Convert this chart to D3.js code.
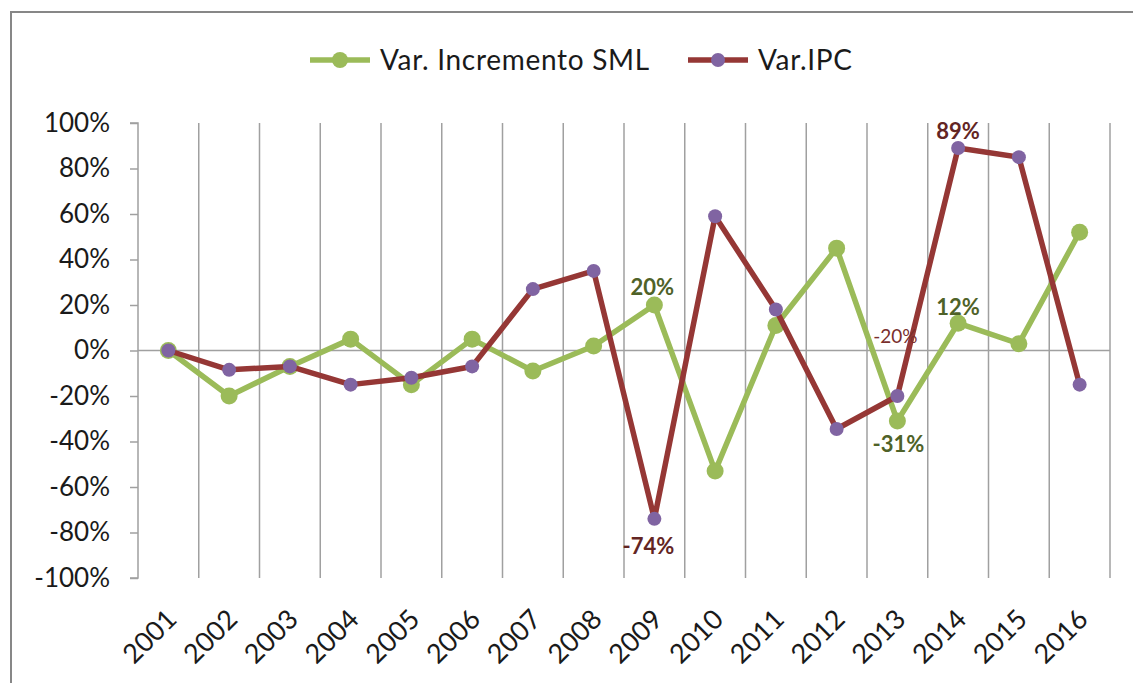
<!DOCTYPE html>
<html>
<head>
<meta charset="utf-8">
<script src="https://cdn.jsdelivr.net/npm/d3@7"></script>
<style>
  html, body { margin: 0; padding: 0; background: #fff; }
  svg { display: block; font-family: Lato, "Liberation Sans", sans-serif; }
</style>
</head>
<body>
<svg id="chart" width="1133" height="683"></svg>
<script>
// ---- data ----
const years = ["2001","2002","2003","2004","2005","2006","2007","2008","2009","2010","2011","2012","2013","2014","2015","2016"];
const smlValues = [0.00, -0.20, -0.07, 0.05, -0.15, 0.05, -0.09, 0.02, 0.20, -0.53, 0.11, 0.45, -0.31, 0.12, 0.03, 0.52];
const ipcValues = [0.00, -0.085, -0.07, -0.15, -0.12, -0.07, 0.27, 0.35, -0.74, 0.59, 0.18, -0.345, -0.20, 0.89, 0.85, -0.15];
const yTicks = [-1, -0.8, -0.6, -0.4, -0.2, 0, 0.2, 0.4, 0.6, 0.8, 1];
const seriesNames = ["Var. Incremento SML", "Var.IPC"];
const smlLabelled = ["2009", "2013", "2014"];
const ipcLabelled = ["2009", "2013", "2014"];

// ---- layout ----
const svg = d3.select("#chart");
const pLeft = 138, pRight = 1110, pTop = 123, pBottom = 578;
const x = d3.scaleBand().domain(years).range([pLeft, pRight]);
const y = d3.scaleLinear().domain([-1, 1]).range([pBottom, pTop]);
const fmt = d3.format(".0%");
const pct = v => fmt(v).replace("\u2212", "-");

// outer frame
svg.append("rect").attr("x", 11).attr("y", 12).attr("width", 1140).attr("height", 700)
  .attr("fill", "none").attr("stroke", "#878787").attr("stroke-width", 2);

// vertical gridlines at category boundaries
const bounds = years.map(d => x(d)).concat([pRight]);
svg.append("g").selectAll("line").data(bounds.slice(1)).join("line")
  .attr("x1", d => d).attr("x2", d => d).attr("y1", pTop).attr("y2", pBottom)
  .attr("stroke", "#a0a0a0").attr("stroke-width", 1.5);

// y axis
const yAxis = d3.axisLeft(y).tickValues(yTicks).tickFormat(pct).tickSize(8).tickPadding(20);
const gy = svg.append("g").attr("transform", `translate(${pLeft},0)`).call(yAxis);
gy.select(".domain").attr("stroke", "#a0a0a0").attr("stroke-width", 1.5).attr("d", `M-8,${pTop}H0V${pBottom}H-8`);
gy.selectAll(".tick line").attr("stroke", "#a0a0a0").attr("stroke-width", 1.5);
gy.selectAll(".tick text").attr("font-size", 26).attr("fill", "#1a1a1a")
  .attr("font-family", "Lato, sans-serif");

// zero line
svg.append("line").attr("x1", pLeft).attr("x2", pRight).attr("y1", y(0)).attr("y2", y(0))
  .attr("stroke", "#a0a0a0").attr("stroke-width", 1.5);

// x labels rotated
svg.append("g").selectAll("text").data(years).join("text")
  .attr("transform", d => `translate(${x(d) + x.bandwidth()/2 + 10},621) rotate(-45)`)
  .attr("text-anchor", "end")
  .attr("font-size", 27).attr("fill", "#1a1a1a")
  .text(d => d);

const cx = d => x(d) + x.bandwidth() / 2;
const lineGen = d3.line().x(d => cx(d.year)).y(d => y(d.v));

const sml = years.map((yr, i) => ({year: yr, v: smlValues[i]}));
const ipc = years.map((yr, i) => ({year: yr, v: ipcValues[i]}));

const green = "#9BBB59", red = "#953735", purple = "#8064A2";

// SML series
svg.append("path").datum(sml).attr("d", lineGen).attr("fill", "none")
  .attr("stroke", green).attr("stroke-width", 5.5).attr("stroke-linejoin", "round");
svg.append("g").selectAll("circle").data(sml).join("circle")
  .attr("cx", d => cx(d.year)).attr("cy", d => y(d.v)).attr("r", 8.5).attr("fill", green);

// IPC series
svg.append("path").datum(ipc).attr("d", lineGen).attr("fill", "none")
  .attr("stroke", red).attr("stroke-width", 5.5).attr("stroke-linejoin", "round");
svg.append("g").selectAll("circle").data(ipc).join("circle")
  .attr("cx", d => cx(d.year)).attr("cy", d => y(d.v)).attr("r", 7).attr("fill", purple);

// data labels
const smlLabelOffsets = {"2009": [-2, -10], "2013": [1, 31], "2014": [0, -8]};
const ipcLabelOffsets = {"2009": [-6, 35], "2013": [-2, -53], "2014": [0, -9]};
svg.append("g").selectAll("text").data(sml.filter(d => smlLabelled.includes(d.year))).join("text")
  .attr("x", d => cx(d.year) + smlLabelOffsets[d.year][0])
  .attr("y", d => y(d.v) + smlLabelOffsets[d.year][1])
  .attr("text-anchor", "middle").attr("font-size", 22).attr("font-weight", "bold")
  .attr("fill", "#4F6228").text(d => pct(d.v));
svg.append("g").selectAll("text").data(ipc.filter(d => ipcLabelled.includes(d.year))).join("text")
  .attr("x", d => cx(d.year) + ipcLabelOffsets[d.year][0])
  .attr("y", d => y(d.v) + ipcLabelOffsets[d.year][1])
  .attr("text-anchor", "middle")
  .attr("font-size", d => d.year === "2013" ? 19 : 22)
  .attr("font-weight", d => d.year === "2013" ? "normal" : "bold")
  .attr("fill", d => d.year === "2013" ? "#7a2f2c" : "#632523").text(d => pct(d.v));

// legend
const legend = svg.append("g");
const legItems = [
  {name: seriesNames[0], x0: 310, line: green, marker: green, r: 8},
  {name: seriesNames[1], x0: 688, line: red, marker: purple, r: 7}
];
legItems.forEach(it => {
  legend.append("line").attr("x1", it.x0).attr("x2", it.x0 + 60).attr("y1", 60).attr("y2", 60)
    .attr("stroke", it.line).attr("stroke-width", 5.5);
  legend.append("circle").attr("cx", it.x0 + 30).attr("cy", 60).attr("r", it.r).attr("fill", it.marker);
  legend.append("text").attr("x", it.x0 + 70).attr("y", 70).attr("font-size", 28)
    .attr("letter-spacing", 0.7)
    .attr("fill", "#1a1a1a").text(it.name);
});
</script>
</body>
</html>
